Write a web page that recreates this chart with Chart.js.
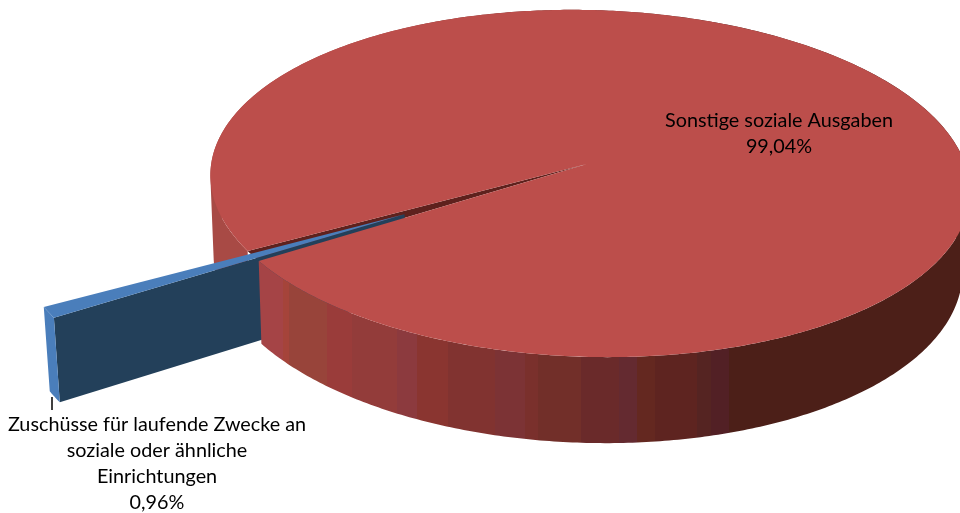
<!DOCTYPE html>
<html>
<head>
<meta charset="utf-8">
<title>Soziale Ausgaben</title>
<script src="https://cdn.jsdelivr.net/npm/chart.js@4"></script>
<style>
  html, body { margin: 0; padding: 0; background: #fff; overflow: hidden; }
  canvas { display: block; }
</style>
</head>
<body>
<canvas id="pie" width="960" height="513"></canvas>
<script>
const categories = ['Zuschüsse für laufende Zwecke an soziale oder ähnliche Einrichtungen', 'Sonstige soziale Ausgaben'];
const shares = [0.96, 99.04];
const sliceColors = ['#4a7ebb', '#bc4e4b'];
const explode = [112, 0];

// label layout: wrapped lines, centre x, first baseline
const labelLines = [
    ['Zuschüsse für laufende Zwecke an', 'soziale oder ähnliche', 'Einrichtungen'],
    ['Sonstige soziale Ausgaben']
];
const labelPos = [[157, 431], [779, 127]];
const labelStep = 26;

// side wall colour bands by screen x
const bandEnds = [283, 289, 327, 352, 397, 417, 448, 495, 525, 538, 581, 619, 637, 655, 697, 711, 729, 960];
const bandColors = ['#a54446', '#a5443a', '#98443a', '#9a3c3a', '#933c3a', '#8c3a3e', '#8a3530', '#813330', '#7c3335', '#7a302c',
    '#722f29', '#6a2a2a', '#642a30', '#642820', '#5e2420', '#552422', '#522025', '#4c1f18'];
const backWall = '#a84a45';
const cutFace = '#5e211d';
const navyFace = '#23405a';

// perspective of the pie plane (fitted against the rim of the picture)
const PLANE = [347.73, 148.9, -78.13, 131.63, 0.0543, -0.0982];
const APEX = [587, 164];
const VANISH = [440, 5900];
const RADIUS = 200;

function project(u, v) {
    const w = 1 + PLANE[4] * u + PLANE[5] * v;
    return [(PLANE[0] * u + PLANE[1] * v + APEX[0]) / w, (PLANE[2] * u + PLANE[3] * v + APEX[1]) / w];
}

// bottom edge of the wall under a point of the top face
function foot(p) {
    const h = 80 + (p[1] - 175) * 0.033;
    return [p[0] + (VANISH[0] - p[0]) * h / (VANISH[1] - p[1]), p[1] + h];
}

function rim(a0, a1, ox, oy) {
    const out = [];
    const n = Math.max(2, Math.ceil(Math.abs(a1 - a0) * 90));
    for (let i = 0; i <= n; i++) {
        const a = a0 + (a1 - a0) * i / n;
        out.push(project(Math.cos(a) + ox, Math.sin(a) + oy));
    }
    return out;
}

function fillPoly(ctx, points, style) {
    ctx.beginPath();
    points.forEach((p, i) => i ? ctx.lineTo(p[0], p[1]) : ctx.moveTo(p[0], p[1]));
    ctx.closePath();
    ctx.fillStyle = style;
    ctx.fill();
}

function area(q) {
    let s = 0;
    q.forEach((p, i) => {
        const n = q[(i + 1) % q.length];
        s += p[0] * n[1] - n[0] * p[1];
    });
    return s;
}

// all quads in one path with the same winding, so the wall folds at the sides without a notch or seams
function fillWall(ctx, points, style) {
    ctx.beginPath();
    for (let i = 0; i < points.length - 1; i++) {
        const q = [points[i], points[i + 1], foot(points[i + 1]), foot(points[i])];
        if (area(q) < 0) q.reverse();
        q.forEach((p, j) => j ? ctx.lineTo(p[0], p[1]) : ctx.moveTo(p[0], p[1]));
        ctx.closePath();
    }
    ctx.fillStyle = style;
    ctx.fill();
}

function bandGradient(ctx) {
    const g = ctx.createLinearGradient(0, 0, 960, 0);
    let from = 0;
    bandEnds.forEach((end, i) => {
        g.addColorStop(from / 960, bandColors[i]);
        g.addColorStop(end / 960, bandColors[i]);
        from = end;
    });
    return g;
}

// Chart.js has no 3D pie: take the angles the pie controller worked out and draw them tilted
const pie3d = {
    id: 'pie3d',
    beforeDatasetDraw(chart, args) {
        const ctx = chart.ctx;
        const arcs = chart.getDatasetMeta(args.index).data;
        const small = arcs[0];
        const big = arcs[1];

        ctx.save();
        // wall behind the gap
        fillWall(ctx, rim(big.startAngle, 1.5 * Math.PI, 0, 0), backWall);

        // inside of the cut, seen through the gap
        fillPoly(ctx, [project(0, 0)].concat(rim(small.startAngle, small.endAngle, 0, 0)), cutFace);

        // pulled out slice
        const mid = (small.startAngle + small.endAngle) / 2;
        const k = small.options.offset / small.outerRadius;
        const ox = Math.cos(mid) * k;
        const oy = Math.sin(mid) * k;
        const tip = project(ox, oy);
        const edge = rim(small.startAngle, small.endAngle, ox, oy);
        fillPoly(ctx, [tip, edge[0], foot(edge[0]), foot(tip)], navyFace);
        fillWall(ctx, edge, small.options.backgroundColor);
        fillPoly(ctx, [tip].concat(edge), small.options.backgroundColor);

        // front wall and top of the big slice
        fillWall(ctx, rim(1.5 * Math.PI, big.endAngle, 0, 0), bandGradient(ctx));
        fillPoly(ctx, [project(0, 0)].concat(rim(big.startAngle, big.endAngle, 0, 0)), big.options.backgroundColor);
        ctx.restore();
        return false;
    },
    afterDraw(chart) {
        const ctx = chart.ctx;
        ctx.save();
        // leader line
        ctx.strokeStyle = '#000';
        ctx.lineWidth = 1.5;
        ctx.beginPath();
        ctx.moveTo(52, 397);
        ctx.lineTo(52, 410);
        ctx.stroke();

        ctx.fillStyle = '#000';
        ctx.font = '19.8px Lato';
        ctx.textAlign = 'center';
        shares.forEach((share, i) => {
            const lines = labelLines[i].concat(share.toFixed(2).replace('.', ',') + '%');
            lines.forEach((line, j) => ctx.fillText(line, labelPos[i][0], labelPos[i][1] + j * labelStep));
        });
        ctx.restore();
    }
};

new Chart(document.getElementById('pie'), {
    type: 'pie',
    data: {
        labels: categories,
        datasets: [{
            data: shares,
            backgroundColor: sliceColors,
            offset: explode,
            borderWidth: 0
        }]
    },
    options: {
        responsive: false,
        animation: false,
        radius: RADIUS,
        rotation: 270 - shares[0] * 1.8,
        layout: { padding: 0 },
        plugins: {
            legend: { display: false },
            tooltip: { enabled: false }
        }
    },
    plugins: [pie3d]
});
</script>
</body>
</html>
